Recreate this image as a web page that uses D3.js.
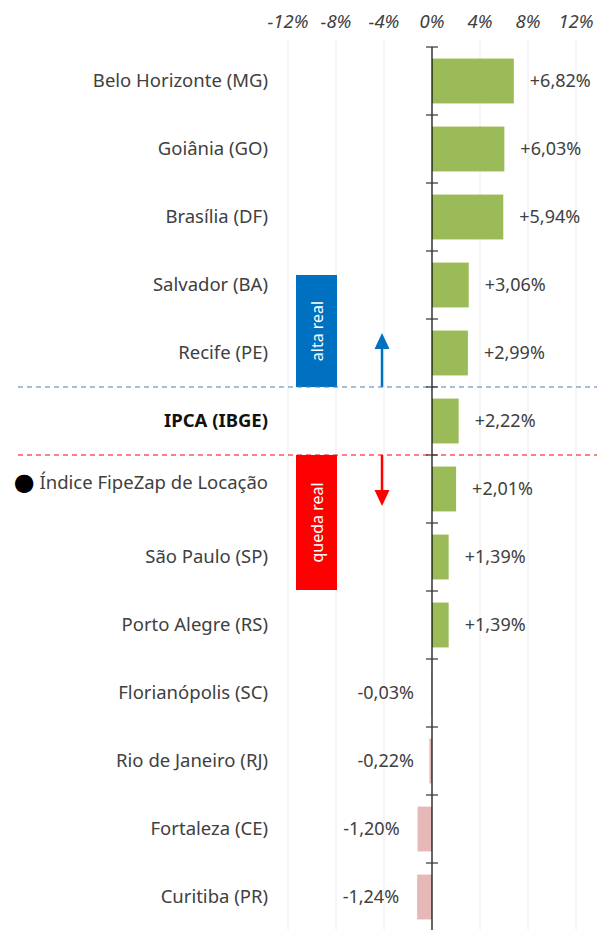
<!DOCTYPE html>
<html>
<head>
<meta charset="utf-8">
<script src="https://cdn.jsdelivr.net/npm/d3@7"></script>
<style>
  body { margin: 0; background: #fff; }
  text { font-family: "Noto Sans", "DejaVu Sans", sans-serif; fill: #404040; }
</style>
</head>
<body>
<div class="chart"></div>
<script>
var cities = ["Belo Horizonte (MG)", "Goiânia (GO)", "Brasília (DF)", "Salvador (BA)", "Recife (PE)",
  "IPCA (IBGE)", "● Índice FipeZap de Locação", "São Paulo (SP)", "Porto Alegre (RS)",
  "Florianópolis (SC)", "Rio de Janeiro (RJ)", "Fortaleza (CE)", "Curitiba (PR)"];
var values = [6.82, 6.03, 5.94, 3.06, 2.99, 2.22, 2.01, 1.39, 1.39, -0.03, -0.22, -1.20, -1.24];
var ticks = [-12, -8, -4, 0, 4, 8, 12];

var svgWidth = 597;
var svgHeight = 930;

var svg = d3.select(".chart")
  .append("svg")
  .attr("width", svgWidth)
  .attr("height", svgHeight);

var x = d3.scaleLinear().domain([-12, 12]).range([288, 576]);
var y = d3.scaleBand().domain(cities).range([47, 931]).paddingInner(0.34).paddingOuter(0.17);

var fmt = function (v) {
  var s = Math.abs(v).toFixed(2).replace(".", ",") + "%";
  return (v >= 0 ? "+" : "-") + s;
};

// gridlines
svg.selectAll(".grid")
  .data(ticks.filter(d => d !== 0))
  .enter()
  .append("line")
  .attr("x1", d => x(d)).attr("x2", d => x(d))
  .attr("y1", 40).attr("y2", svgHeight)
  .attr("stroke", "#ececec")
  .attr("stroke-width", 1);

// top axis labels
svg.selectAll(".tick-label")
  .data(ticks)
  .enter()
  .append("text")
  .attr("x", d => x(d))
  .attr("y", 28)
  .attr("text-anchor", "middle")
  .attr("font-size", 18.5)
  .attr("font-style", "italic")
  .text(d => d + "%");

// boxes
var boxX = 296, boxW = 41;
svg.append("rect")
  .attr("x", boxX).attr("y", 275).attr("width", boxW).attr("height", 387 - 275)
  .attr("fill", "#0070C0");
svg.append("text")
  .attr("transform", `translate(${boxX + boxW / 2 + 6}, ${(275 + 387) / 2}) rotate(-90)`)
  .attr("text-anchor", "middle")
  .attr("font-size", 16)
  .style("fill", "#fff")
  .text("alta real");

svg.append("rect")
  .attr("x", boxX).attr("y", 455).attr("width", boxW).attr("height", 590 - 455)
  .attr("fill", "#FF0000");
svg.append("text")
  .attr("transform", `translate(${boxX + boxW / 2 + 6}, ${(455 + 590) / 2}) rotate(-90)`)
  .attr("text-anchor", "middle")
  .attr("font-size", 16)
  .style("fill", "#fff")
  .text("queda real");

// arrows
var ax = x(-4) - 2;
svg.append("line")
  .attr("x1", ax).attr("x2", ax).attr("y1", 387).attr("y2", 347)
  .attr("stroke", "#0070C0").attr("stroke-width", 2.5);
svg.append("path")
  .attr("d", `M${ax - 7.5},349 L${ax},333 L${ax + 7.5},349 Z`)
  .attr("fill", "#0070C0");
svg.append("line")
  .attr("x1", ax).attr("x2", ax).attr("y1", 455).attr("y2", 492)
  .attr("stroke", "#FF0000").attr("stroke-width", 2.5);
svg.append("path")
  .attr("d", `M${ax - 7.5},490 L${ax},506 L${ax + 7.5},490 Z`)
  .attr("fill", "#FF0000");

// bars
svg.selectAll(".bar")
  .data(values)
  .enter()
  .append("rect")
  .attr("x", d => x(Math.min(0, d)))
  .attr("y", (d, i) => y(cities[i]))
  .attr("width", d => Math.abs(x(d) - x(0)))
  .attr("height", y.bandwidth())
  .attr("fill", d => d >= 0 ? "#9BBB59" : "#E6B9B8");

// dashed lines
var b1 = y(cities[5]) - y.step() * y.paddingInner() / 2;
var b2 = y(cities[6]) - y.step() * y.paddingInner() / 2;
svg.append("line")
  .attr("x1", 18).attr("x2", svgWidth).attr("y1", b1).attr("y2", b1)
  .attr("stroke", "#4A7EBB").attr("stroke-width", 1.2).attr("stroke-dasharray", "5,4");
svg.append("line")
  .attr("x1", 18).attr("x2", svgWidth).attr("y1", b2).attr("y2", b2)
  .attr("stroke", "#FF0000").attr("stroke-width", 1.2).attr("stroke-dasharray", "5,4");

// axis line and category ticks
svg.append("line")
  .attr("x1", x(0)).attr("x2", x(0)).attr("y1", 47).attr("y2", svgHeight)
  .attr("stroke", "#000").attr("stroke-width", 1.2);
svg.selectAll(".cat-tick")
  .data(cities)
  .enter()
  .append("line")
  .attr("x1", x(0) - 6).attr("x2", x(0) + 6)
  .attr("y1", d => y(d) - y.step() * y.paddingInner() / 2)
  .attr("y2", d => y(d) - y.step() * y.paddingInner() / 2)
  .attr("stroke", "#333").attr("stroke-width", 1.2);

// category labels
var catLabels = svg.selectAll(".cat-label")
  .data(cities)
  .enter()
  .append("text")
  .attr("x", 268)
  .attr("y", d => y(d) + y.bandwidth() / 2)
  .attr("dy", "0.35em")
  .attr("text-anchor", "end")
  .attr("font-size", 18.5)
  .attr("font-weight", d => d === "IPCA (IBGE)" ? "bold" : "normal")
  .style("fill", d => d === "IPCA (IBGE)" ? "#111" : "#404040");

catLabels.each(function (d) {
  var t = d3.select(this);
  if (d.startsWith("● ")) {
    t.append("tspan").attr("font-size", 24).attr("dy", "0.05em").style("fill", "#000").text("●");
    t.append("tspan").attr("dy", "-0.05em").text(" " + d.slice(2));
  } else {
    t.text(d);
  }
});

// value labels
svg.selectAll(".val-label")
  .data(values)
  .enter()
  .append("text")
  .attr("x", d => d >= 0 ? x(d) + 16 : x(Math.min(d, 0)) - 18 + (d > -0.5 ? -x(d) + x(0) : 0))
  .attr("y", (d, i) => y(cities[i]) + y.bandwidth() / 2)
  .attr("dy", "0.35em")
  .attr("text-anchor", d => d >= 0 ? "start" : "end")
  .attr("font-size", 18)
  .text(d => fmt(d));
</script>
</body>
</html>
